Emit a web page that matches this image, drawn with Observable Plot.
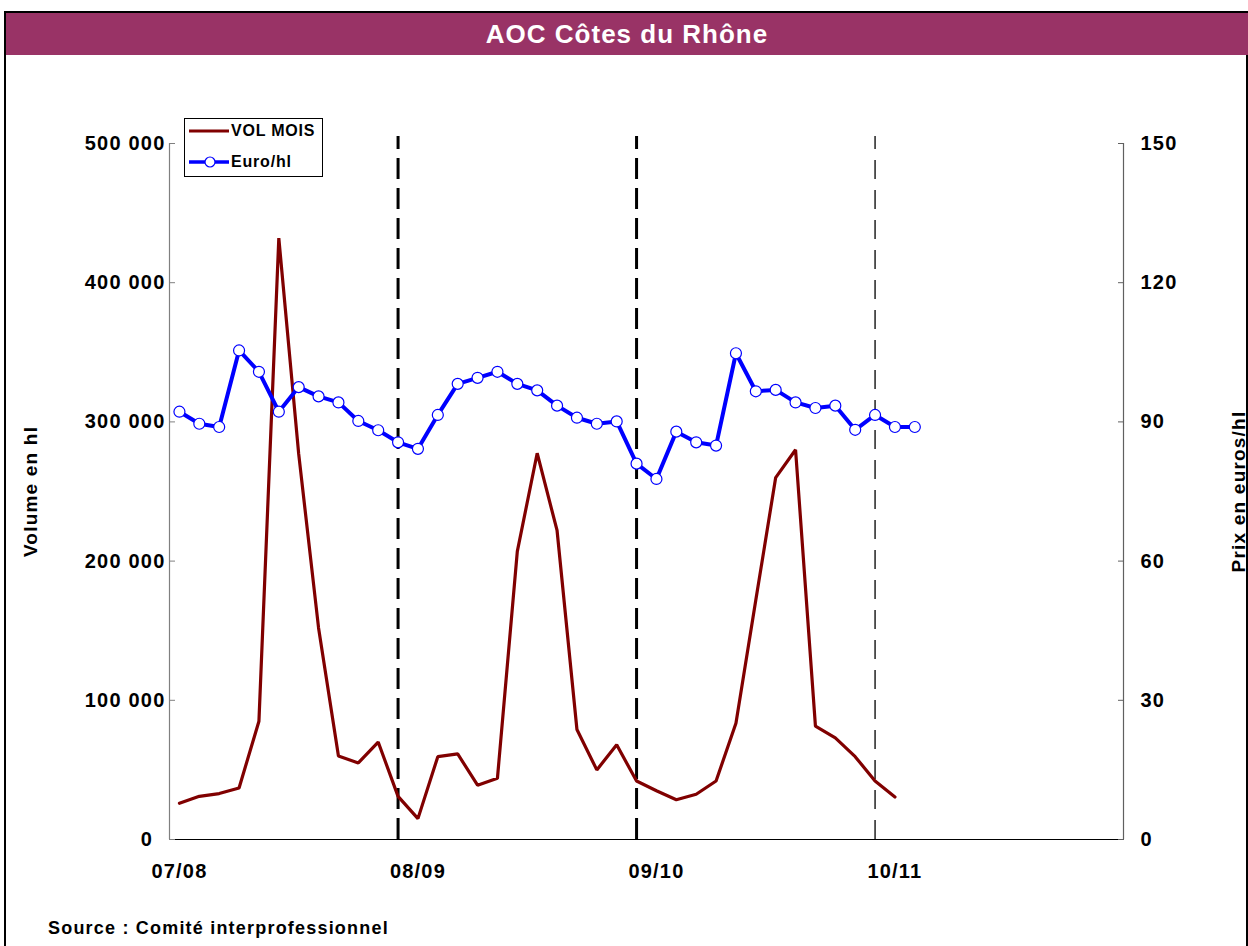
<!DOCTYPE html>
<html>
<head>
<meta charset="utf-8">
<script src="https://cdn.jsdelivr.net/npm/d3@7"></script>
<script src="https://cdn.jsdelivr.net/npm/@observablehq/plot@0.6"></script>
<style>
  body { margin: 0; background: #fff; }
  #wrap { position: relative; width: 1248px; height: 946px; overflow: hidden;
          font-family: "Liberation Sans", Arial, sans-serif; font-weight: bold; background: #fff; }
  #frame { position: absolute; left: 4px; top: 11px; width: 1244px; height: 1000px;
           border: 2px solid #000; box-sizing: border-box; }
  #titlebar { position: absolute; left: 6px; top: 13px; width: 1242px; height: 42px;
              background: #993366; color: #fff; font-size: 26px; letter-spacing: 1px;
              text-align: center; line-height: 42px; }
  #chart { position: absolute; left: 0; top: 60px; }
  #legend { position: absolute; left: 184px; top: 118px; width: 139px; height: 59px;
            border: 1px solid #000; background: #fff; box-sizing: border-box;
            font-size: 16px; letter-spacing: 0.8px; }
  #legend .lab { position: absolute; left: 46px; line-height: 18px; }
  #legend svg { position: absolute; left: 0; top: 0; }
  #caption { position: absolute; left: 48px; top: 918px; font-size: 18px; letter-spacing: 1.2px; }
</style>
</head>
<body>
<div id="wrap">
  <div id="frame"></div>
  <div id="titlebar">AOC Côtes du Rhône</div>
  <div id="chart"></div>
  <div id="legend">
    <svg width="60" height="58">
      <line x1="4" y1="12" x2="44" y2="12" stroke="#800000" stroke-width="3.2"></line>
      <line x1="4" y1="43" x2="44" y2="43" stroke="#0000ff" stroke-width="3.5"></line>
      <circle cx="25" cy="43" r="5" fill="#fff" stroke="#0000ff" stroke-width="1.2"></circle>
    </svg>
    <div class="lab" style="top:3px">VOL MOIS</div>
    <div class="lab" style="top:34px">Euro/hl</div>
  </div>
  <div id="caption">Source : Comité interprofessionnel</div>
</div>
<script>
// Monthly volumes (hl), campaigns 07/08 -> 10/11 (month index = position)
const volumeMois = [
  26000, 31000, 33000, 37000, 85000, 432000, 277000, 152000, 60000, 55000, 70000, 31000,
  15000, 59500, 61500, 39000, 44000, 207000, 277500, 222000, 79000, 50000, 68000, 42000,
  35000, 28500, 32500, 42000, 83500, 172000, 260000, 280000, 81500, 73000, 59500, 42000,
  30500
];
// Monthly prices (euro/hl)
const euroHl = [
  92.2, 89.6, 88.9, 105.4, 100.8, 92.2, 97.5, 95.5, 94.2, 90.2, 88.2, 85.6,
  84.2, 91.5, 98.2, 99.5, 100.8, 98.2, 96.8, 93.5, 90.9, 89.6, 90.1, 81.0,
  77.7, 87.9, 85.6, 84.9, 104.8, 96.6, 96.9, 94.2, 93.0, 93.5, 88.3, 91.5,
  88.9, 88.9
];
const campaignLabels = ["07/08", "08/09", "09/10", "10/11"];
const campaignTickIndex = [0, 12, 24, 36];
const campaignBreakIndex = [11, 23];   // thick dashed separators
const campaignBreakThin = [35];        // thin dashed separator
const monthCount = 48;
const volumeTicks = [0, 100000, 200000, 300000, 400000, 500000];
const priceTicks = [0, 30, 60, 90, 120, 150];
const volMax = 500000, priceMax = 150;

const toVol = p => p * volMax / priceMax;
const fmtVol = d => d === 0 ? "0\u2007" : d3.format(",")(d).replace(/,/g, "\u00A0");

const chart = Plot.plot({
  width: 1248, height: 840,
  marginLeft: 169, marginRight: 125, marginTop: 83, marginBottom: 61,
  x: { domain: [-0.5, monthCount - 0.5] },
  y: { domain: [0, volMax] },
  style: { fontFamily: "'Liberation Sans', Arial, sans-serif", fontWeight: "bold",
           fontSize: "20px", color: "#000", background: "transparent", letterSpacing: "1.2px" },
  marks: [
    Plot.ruleX(campaignBreakIndex, { y1: 0, y2: 505000, stroke: "#000", strokeWidth: 3, strokeDasharray: "21,9" }),
    Plot.ruleX(campaignBreakThin, { y1: 0, y2: 505000, stroke: "#000", strokeWidth: 1.3, strokeDasharray: "19,11" }),
    Plot.ruleX([-0.5], { stroke: "#808080", strokeWidth: 1.2 }),
    Plot.ruleX([monthCount - 0.5], { stroke: "#606060", strokeWidth: 1.2 }),
    Plot.ruleY([0], { stroke: "#000", strokeWidth: 1.2 }),
    // left axis
    Plot.axisY({ ticks: volumeTicks, tickSize: 6, dx: 6, tickFormat: () => "", stroke: "#808080" }),
    Plot.axisY({ ticks: volumeTicks, tickSize: 0, tickPadding: 4, tickFormat: fmtVol, fontSize: 20 }),
    // right axis (price)
    Plot.axisY({ anchor: "right", ticks: priceTicks.map(toVol), tickSize: 6, dx: -6, tickFormat: () => "", stroke: "#606060" }),
    Plot.axisY({ anchor: "right", ticks: priceTicks.map(toVol), tickSize: 0, tickPadding: 17,
                 tickFormat: d => String(Math.round(d * priceMax / volMax)), fontSize: 20 }),
    // x axis
    Plot.axisX({ ticks: campaignTickIndex, tickSize: 0, tickPadding: 24,
                 tickFormat: d => campaignLabels[campaignTickIndex.indexOf(d)], fontSize: 20 }),
    // axis titles
    Plot.text(["Volume en hl"], { frameAnchor: "left", dx: -139, rotate: -90, textAnchor: "middle", fontSize: 19, text: d => d }),
    Plot.text(["Prix en euros/hl"], { frameAnchor: "right", dx: 115, rotate: -90, textAnchor: "middle", fontSize: 19, text: d => d }),
    // series
    Plot.line(volumeMois, { x: (d, i) => i, y: d => d, stroke: "#800000", strokeWidth: 3.2, strokeLinejoin: "miter" }),
    Plot.line(euroHl, { x: (d, i) => i, y: d => toVol(d), stroke: "#0000ff", strokeWidth: 4 }),
    Plot.dot(euroHl, { x: (d, i) => i, y: d => toVol(d), r: 5.5, fill: "#fff", stroke: "#0000ff", strokeWidth: 1.2 })
  ]
});
document.getElementById("chart").appendChild(chart);
</script>
</body>
</html>
